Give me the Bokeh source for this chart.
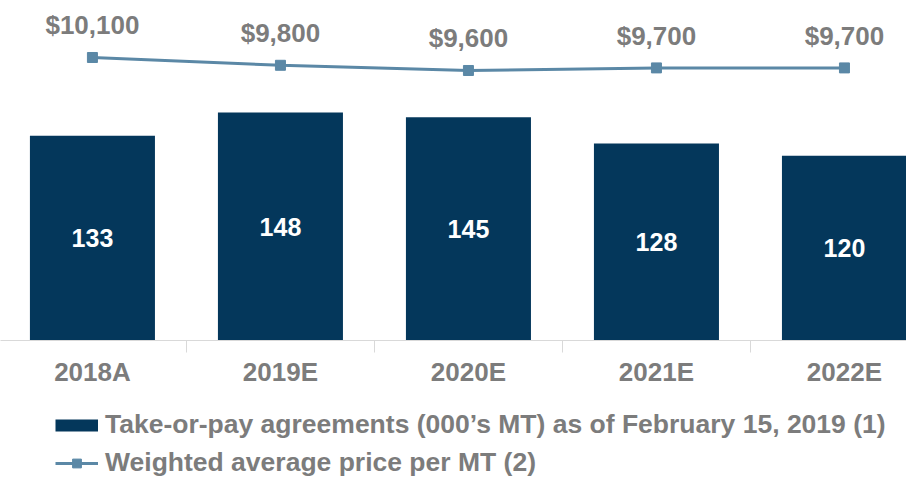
from bokeh.plotting import figure
from bokeh.layouts import column
from bokeh.models import (Range1d, LinearAxis, FixedTicker, Legend, LegendItem,
                          ColumnDataSource)
from bokeh.core.properties import value
from bokeh.embed import file_html
from bokeh.resources import INLINE

# ---- data ----
categories = ["2018A", "2019E", "2020E", "2021E", "2022E"]
take_or_pay = [133, 148, 145, 128, 120]          # 000's MT
avg_price = [10100, 9800, 9600, 9700, 9700]      # $ per MT
bar_label = "Take-or-pay agreements (000\u2019s MT) as of February 15, 2019 (1)"
line_label = "Weighted average price per MT (2)"

NAVY = "#04375b"
STEEL = "#5b88a6"
GRAY = "#7c7c7c"
FONT = "Liberation Sans"

xs = list(range(len(categories)))
src = ColumnDataSource(dict(
    x=xs,
    top=take_or_pay,
    mid=[v / 2 for v in take_or_pay],
    lbl=[str(v) for v in take_or_pay],
    price=avg_price,
    plbl=["${:,}".format(v) for v in avg_price],
))

p = figure(width=906, height=400, output_backend="svg", toolbar_location=None,
           x_range=Range1d(-0.489, 4.330), y_range=Range1d(0, 220.8),
           x_axis_location=None, y_axis_location=None,
           min_border_left=0, min_border_right=0, min_border_top=0,
           min_border_bottom=60)
p.extra_y_ranges = {"price": Range1d(-785, 12292)}
p.outline_line_color = None
p.xgrid.visible = False
p.ygrid.visible = False

# bars
p.vbar(x="x", top="top", width=0.665, source=src, fill_color=NAVY,
       line_color=None)
p.text(x="x", y="mid", text="lbl", source=src, text_color="white",
       text_font=value(FONT), text_font_style="bold", text_font_size="25px",
       text_align="center", text_baseline="middle")

# price line
p.line(x="x", y="price", source=src, y_range_name="price",
       line_color=STEEL, line_width=3)
p.scatter(x="x", y="price", source=src, y_range_name="price",
          marker="square", size=10, fill_color=STEEL, line_color=STEEL)
p.text(x="x", y="price", text="plbl", source=src, y_range_name="price",
       y_offset=-32, text_color=GRAY, text_font=value(FONT),
       text_font_style="bold", text_font_size="26px",
       text_align="center", text_baseline="middle")

# x axis
ax = LinearAxis(ticker=FixedTicker(ticks=xs, minor_ticks=[-0.5, 0.5, 1.5, 2.5, 3.5, 4.5]))
ax.major_label_overrides = {i: c for i, c in zip(xs, categories)}
ax.axis_line_color = "#d9d9d9"
ax.axis_line_width = 1
ax.major_tick_line_color = None
ax.major_tick_out = 0
ax.major_tick_in = 0
ax.minor_tick_line_color = "#d9d9d9"
ax.minor_tick_out = 12
ax.minor_tick_in = 0
ax.major_label_standoff = 4
ax.major_label_text_color = GRAY
ax.major_label_text_font = FONT
ax.major_label_text_font_style = "bold"
ax.major_label_text_font_size = "26px"
p.add_layout(ax, "below")

# ---- legend figure ----
q = figure(width=906, height=78, output_backend="svg", toolbar_location=None,
           x_range=Range1d(0, 1), y_range=Range1d(0, 1),
           x_axis_location=None, y_axis_location=None,
           min_border_left=0, min_border_right=0, min_border_top=0,
           min_border_bottom=0)
q.outline_line_color = None
q.xgrid.visible = False
q.ygrid.visible = False

# off-screen proxies so the legend can draw its swatches
bar_proxy = q.line(x=[-10, -9], y=[-10, -10], line_color=NAVY, line_width=12,
                   line_cap="butt")
line_proxy = q.line(x=[-10, -9], y=[-10, -10], line_color=STEEL, line_width=3)
mark_proxy = q.scatter(x=[-10], y=[-10], marker="square", size=8,
                       fill_color=STEEL, line_color=STEEL)

legend = Legend(items=[LegendItem(label=bar_label, renderers=[bar_proxy]),
                       LegendItem(label=line_label, renderers=[line_proxy, mark_proxy])],
                location=(55, 0), orientation="vertical",
                glyph_width=43, glyph_height=22, label_height=30,
                label_standoff=7, spacing=7, padding=0, margin=0,
                border_line_color=None, background_fill_alpha=0,
                label_text_color=GRAY, label_text_font=FONT,
                label_text_font_style="bold", label_text_font_size="26.5px")
q.add_layout(legend, "center")

open("out.html", "w").write(file_html(column(p, q, spacing=0), INLINE))
